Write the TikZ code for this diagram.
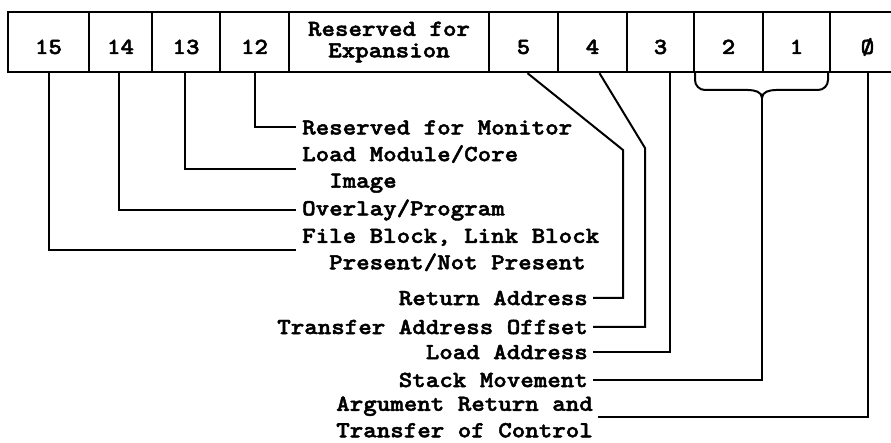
\documentclass[tikz,border=0pt]{standalone}
\usepackage{fontspec}
\setmainfont{lmmonolt10-bold.otf}[FakeStretch=1.118, FakeBold=2]
\usetikzlibrary{calc}
\begin{document}
\begin{tikzpicture}[x=1pt,y=-1pt,
  every node/.style={font=\fontsize{23}{26.5}\selectfont},
  cell/.style={draw, line width=2.4pt, minimum height=60pt, inner sep=0pt, anchor=center},
  num/.style={text height=24pt, text depth=0pt},
  conn/.style={line width=2pt},
  lbl/.style={inner xsep=6pt, inner ysep=0pt, align=left, anchor=west},
  rlbl/.style={inner xsep=5pt, inner ysep=0pt, align=right, anchor=east}]
\useasboundingbox (0,0) rectangle (891,443);

% the status word, bit 15 on the left
\node[cell, num, minimum width=81pt] (c15) at (48.5,42) {15};
\node[cell, num, minimum width=63pt] (c14) at (120.5,42) {14};
\node[cell, num, minimum width=68pt] (c13) at (186,42) {13};
\node[cell, num, minimum width=69pt] (c12) at (254.5,42) {12};
\node[cell, minimum width=200pt, align=center,
      font=\fontsize{23}{21.5}\selectfont] (cres) at (389,42) {Reserved for\\Expansion};
\node[cell, num, minimum width=69pt] (c5) at (523.5,42) {5};
\node[cell, num, minimum width=69pt] (c4) at (592.5,42) {4};
\node[cell, num, minimum width=67pt] (c3) at (660.5,42) {3};
\node[cell, num, minimum width=69pt] (c2) at (728.5,42) {2};
\node[cell, num, minimum width=67pt] (c1) at (796.5,42) {1};
\node[cell, num, minimum width=75pt] (c0) at (867.5,42) {Ø};

% descriptions of the high bits
\node[lbl] (l12) at (296,127.5) {Reserved for Monitor};
\node[lbl] (l13) at (296,169) {Load Module/Core\\\hspace*{2\fontcharwd\font`\ }Image};
\node[lbl] (l14) at (296,210) {Overlay/Program};
\node[lbl] (l15) at (296,250) {File Block, Link Block\\\hspace*{2\fontcharwd\font`\ }Present/Not Present};

% descriptions of the low bits
\node[rlbl] (lret) at (593,298) {Return Address};
\node[rlbl] (ltao) at (593,327) {Transfer Address Offset};
\node[rlbl] (lla)  at (593,352) {Load Address};
\node[rlbl] (lsm)  at (593,380) {Stack Movement};
\node[rlbl] (larg) at (598,417) {Argument Return and\\Transfer of Control};

% leaders for the high bits
\draw[conn] (c15.south) |- (l15.west);
\draw[conn] ([xshift=-2pt]c14.south) |- (l14.west);
\draw[conn] ([xshift=-1pt]c13.south) |- (l13.west);
\draw[conn] (c12.south) |- (l12.west);

% leaders for the low bits
\coordinate (k5) at (623,150);
\coordinate (k4) at (645,148);
\draw[conn] ([xshift=4pt]c5.south) -- (k5) |- (lret.east);
\draw[conn] ([xshift=7pt]c4.south) -- (k4) |- (ltao.east);
\draw[conn] ([xshift=9pt]c3.south) |- (lla.east);

% brace joining bits 2 and 1
\coordinate (bt) at (762,98);
\draw[conn] (695,72) -- (695,80) to[out=-90,in=180] (705,90) -- (748,90)
  to[out=0,in=90] (bt) to[out=90,in=180] (776,90) -- (818,90)
  to[out=0,in=-90] (828,80) -- (828,72);
\draw[conn] (bt) |- (lsm.east);
\draw[conn] (c0.south) |- (larg.east);
\end{tikzpicture}
\end{document}
